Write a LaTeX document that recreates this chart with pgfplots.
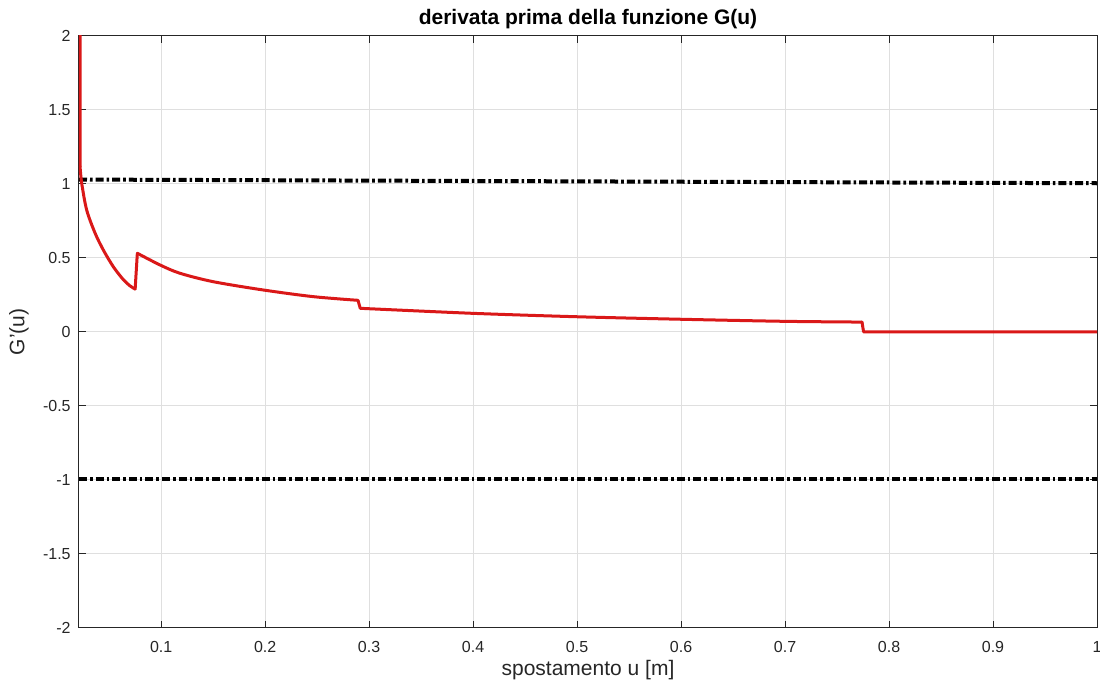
\documentclass[border=0pt]{standalone}
\usepackage{fontspec}
\setmainfont{Liberation Sans}
\usepackage{pgfplots}
\pgfplotsset{compat=1.18}
\definecolor{axgray}{RGB}{38,38,38}
\definecolor{gridgray}{RGB}{223,223,223}
\definecolor{mred}{RGB}{218,24,24}
\begin{document}
\begin{tikzpicture}
\begin{axis}[
  scale only axis,
  width=509pt, height=296pt,
  xmin=0.021, xmax=1, ymin=-2, ymax=2,
  xtick={0.1,0.2,0.3,0.4,0.5,0.6,0.7,0.8,0.9,1},
  xticklabels={0.1,0.2,0.3,0.4,0.5,0.6,0.7,0.8,0.9,1},
  ytick={-2,-1.5,-1,-0.5,0,0.5,1,1.5,2},
  yticklabels={-2,-1.5,-1,-0.5,0,0.5,1,1.5,2},
  tick align=inside,
  major tick length=3.5pt,
  xtick pos=both, ytick pos=both,
  axis line style={axgray, line width=0.5pt},
  tick style={axgray, line width=0.5pt},
  grid=major,
  major grid style={gridgray, line width=0.5pt},
  ticklabel style={font=\fontsize{8}{9}\selectfont, text=axgray},
  xticklabel style={anchor=base, yshift=-12.5pt, inner sep=0pt},
  yticklabel style={anchor=east, xshift=-4pt, inner sep=0pt},
  every axis title shift=0pt,
  title={\bfseries derivata prima della funzione G(u)},
  title style={at={(0.5,1)}, anchor=base, yshift=5.5pt, font=\fontsize{10.5}{12}\selectfont, inner sep=0pt},
  xlabel={spostamento u [m]},
  xlabel style={at={(0.5,0)}, anchor=base, yshift=-24pt, font=\fontsize{10.5}{12}\selectfont, text=axgray, inner sep=0pt},
  ylabel={G'(u)},
  ylabel style={at={(0,0.5)}, anchor=center, yshift=30pt, font=\fontsize{10.5}{12}\selectfont, text=axgray, inner sep=0pt},
  clip=true,
]
\addplot[black, line width=2pt, dash pattern=on 4pt off 1.5pt on 1.3pt off 1.5pt] coordinates {(0.021,1.03) (1,1.005)};
\addplot[black, line width=2pt, dash pattern=on 4pt off 1.5pt on 1.3pt off 1.5pt] coordinates {(0.021,-0.995) (1,-0.995)};
\pgfplotsset{redline/.style={mred, line width=1.5pt, line join=round, line cap=round}}
\addplot[redline] coordinates {(0.02195,2.3) (0.0220,1.12)};
\addplot[redline, smooth, tension=0.5] coordinates {
 (0.0220,1.12) (0.0236,1.005) (0.0284,0.824) (0.0364,0.669)
 (0.0444,0.554) (0.054,0.441) (0.0636,0.354) (0.0700,0.312) (0.0750,0.290)};
\addplot[redline] coordinates {(0.0750,0.290) (0.0771,0.532)};
\addplot[redline, smooth, tension=0.5] coordinates {
 (0.0771,0.532) (0.0989,0.453) (0.118,0.397) (0.150,0.340) (0.198,0.284)
 (0.246,0.239) (0.2893,0.214)};
\addplot[redline] coordinates {(0.2893,0.214) (0.2915,0.160)};
\addplot[redline, smooth, tension=0.5] coordinates {
 (0.2915,0.160) (0.40,0.126) (0.50,0.103) (0.60,0.086) (0.70,0.072) (0.7740,0.067)};
\addplot[redline] coordinates {(0.7740,0.067) (0.7755,0.001) (1,0.001)};
\end{axis}
\pgfresetboundingbox
\path ([shift={(-39.5pt,-30pt)}]current axis.south west) rectangle ([shift={(1.5pt,18pt)}]current axis.north east);
\end{tikzpicture}
\end{document}
